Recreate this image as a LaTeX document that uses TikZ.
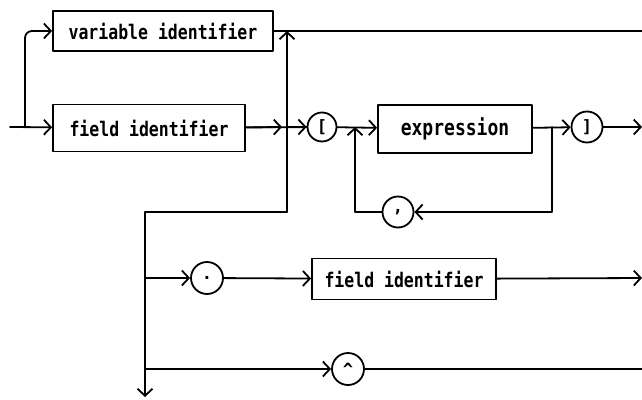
\documentclass[tikz,border=0pt]{standalone}
\usepackage{fontspec}
\usepackage{graphicx}
\setmonofont{DejaVu Sans Mono}
\usetikzlibrary{arrows.meta}
% slightly tall lettering for the box labels
\newcommand{\tallword}[1]{\scalebox{1}[1.22]{#1}}
\begin{document}
\begin{tikzpicture}[x=1pt,y=-1pt,
  line width=1.8pt, line cap=round, line join=round,
  >={Straight Barb[length=7pt,width=15pt]},
  idbox/.style={draw, rectangle, inner sep=0pt, font=\ttfamily\bfseries\fontsize{16.5}{18}\selectfont},
  sym/.style={draw, circle, minimum size=31pt, inner sep=0pt, font=\ttfamily\bfseries\fontsize{17}{18}\selectfont}]
\useasboundingbox (0,0) rectangle (642,399);
\fill[white] (0,0) rectangle (642,399);

% boxes and terminal symbols
\node[idbox, minimum width=220pt, minimum height=40pt] (vid)  at (163,31)  {\tallword{variable identifier}};
\node[idbox, minimum width=192pt, minimum height=47pt] (fid)  at (149,128) {\tallword{field identifier}};
\node[idbox, minimum width=154pt, minimum height=48pt, font=\ttfamily\bfseries\fontsize{18}{20}\selectfont] (expr) at (455,129) {\tallword{expression}};
\node[idbox, minimum width=184pt, minimum height=41pt] (fid2) at (404,279) {\tallword{field identifier}};
\node[sym, minimum size=29pt] (lb)    at (322,127) {[};
\node[sym] (rb)    at (587,127) {]};
\node[sym] (comma) at (398,212) {,};
\node[sym, minimum size=32pt] (dot)   at (207,278) {.};
\node[sym, minimum size=32pt] (caret) at (348,369) {\^{}};

% junction points
\coordinate (in)    at (10,127);
\coordinate (split) at (25,127);
\coordinate (jtop)  at (287,31);
\coordinate (jmid)  at (287,127);
\coordinate (jbot)  at (287,212);
\coordinate (lft)   at (145,212);
\coordinate (exit)  at (145,397);
\coordinate (rowd)  at (145,278);
\coordinate (rowc)  at (145,369);
\coordinate (lpl)   at (355,127);
\coordinate (lpr)   at (552,127);
\coordinate (out1)  at (642,31);
\coordinate (out2)  at (642,127);
\coordinate (out3)  at (642,278);
\coordinate (out4)  at (642,369);

% entry
\draw[->] (in) -- (fid);
\draw[->, rounded corners=7pt] (split) |- (vid);

% identifiers into the selector loop
\draw (vid) -- (out1);
\draw (fid) -- (lb);
\draw[->, shorten >=5pt] (fid) -- (jmid);
\draw[->] (jbot) -- (jtop);
\draw[->] (jmid) -- (lb);

% index list
\draw[->] (lb) -- (expr);
\draw[->] (expr) -- (rb);
\draw[->] (lpr) |- (comma);
\draw[->] (comma) -| (lpl);
\draw[->] (rb) -- (out2);

% field and pointer selectors
\draw[->] (jbot) -- (lft) -- (exit);
\draw[->] (rowd) -- (dot);
\draw[->] (dot) -- (fid2);
\draw[->] (fid2) -- (out3);
\draw[->] (rowc) -- (caret);
\draw (caret) -- (out4);
\end{tikzpicture}
\end{document}
